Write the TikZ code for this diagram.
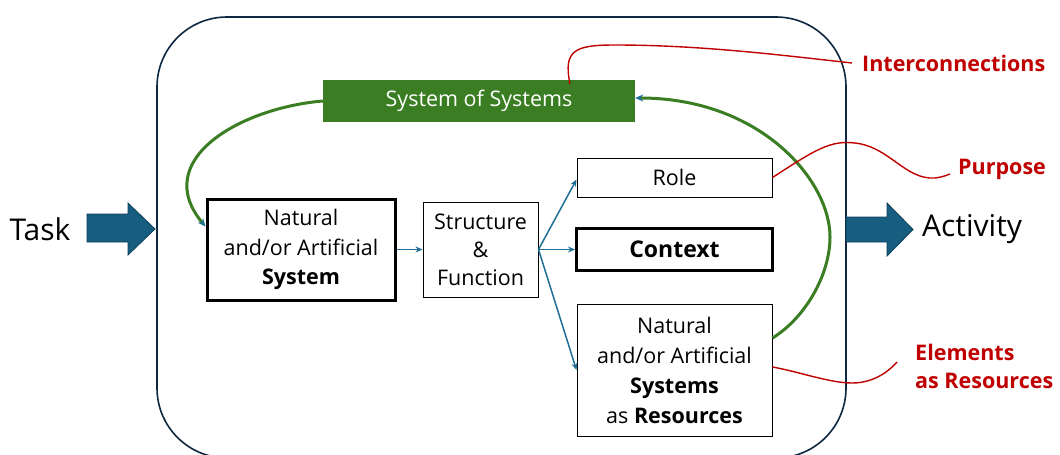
\documentclass[tikz,border=0pt]{standalone}
\usepackage{fontspec}
\setmainfont{Open Sans}
\usetikzlibrary{arrows.meta}
\definecolor{framec}{HTML}{0E2841}
\definecolor{sosgreen}{HTML}{3A7D22}
\definecolor{linkblue}{HTML}{1F6E96}
\definecolor{arrowfill}{HTML}{175D80}
\definecolor{arrowedge}{HTML}{0E3F5A}
\definecolor{notered}{HTML}{C00000}
\begin{document}
\begin{tikzpicture}[x=1pt,y=-1pt,
  boxtxt/.style={font=\fontsize{21.5}{29.5}\selectfont, align=center, inner sep=0pt, draw=black},
  thinbox/.style={boxtxt, line width=1pt},
  thickbox/.style={boxtxt, line width=3pt},
  link/.style={draw=linkblue, line width=1.5pt, -{Stealth[length=7pt,width=6pt]}},
  loop/.style={draw=sosgreen, line width=3pt, -{Stealth[length=8pt,width=7pt,color=linkblue]}},
  note/.style={draw=notered, line width=1.4pt},
  notelabel/.style={text=notered, font=\bfseries\fontsize{21.5}{28}\selectfont, anchor=west, align=left, inner sep=0pt},
  bigarrow/.style={fill=arrowfill, draw=arrowedge, line width=0.8pt, line join=miter},
  bigtxt/.style={font=\fontsize{30}{32}\selectfont, inner sep=0pt}
]
\useasboundingbox (0,0) rectangle (1060,455);
\clip (0,0) rectangle (1060,455);

% frame
\draw[draw=framec, line width=1.6pt, rounded corners=70pt] (157,17) rectangle (846,458);

% boxes
\node[fill=sosgreen, text=white, font=\fontsize{21.5}{24}\selectfont, minimum width=312pt, minimum height=42pt, inner sep=0pt] (sos) at (479,101) {System of Systems};
\node[thickbox, minimum width=188pt, minimum height=101pt] (sys) at (301,249.5) {Natural\\and/or Artificial\\\textbf{System}};
\node[thinbox, minimum width=115pt, minimum height=95pt, font=\fontsize{21.5}{28}\selectfont] (sf) at (480.5,249.5) {Structure\\\&\\Function};
\node[thinbox, minimum width=195pt, minimum height=39pt] (role) at (674.5,177.5) {Role};
\node[thickbox, minimum width=196pt, minimum height=42pt, font=\bfseries\fontsize{23}{29}\selectfont] (ctx) at (674.5,249.5) {Context};
\node[thinbox, minimum width=195pt, minimum height=132pt, font=\fontsize{21.5}{30}\selectfont] (res) at (674.5,370) {Natural\\and/or Artificial\\\textbf{Systems}\\as \textbf{Resources}};

% task / activity
\node[bigtxt] (task) at (40,229) {Task};
\draw[bigarrow] (87,214) -- (128,214) -- (128,203) -- (155,229) -- (128,255) -- (128,242) -- (87,242) -- cycle;
\node[bigtxt, anchor=west] (act) at (922,229) {Activity};
\draw[bigarrow] (846,217) -- (887,217) -- (887,203) -- (913,229.5) -- (887,256) -- (887,242) -- (846,242) -- cycle;

% blue links
\draw[link] (sys.east) -- (sf.west);
\draw[link] (sf.east) -- ([yshift=-2pt]role.west);
\draw[link] (sf.east) -- (ctx.west);
\draw[link] (sf.east) -- (res.west);

% green loops
\draw[loop] (sos.west) .. controls (240,108) and (150,160) .. ([yshift=23pt]sys.west);
\draw[loop] ([yshift=32pt]res.east) .. controls (805,318) and (830,275) .. (830,237)
  .. controls (830,180) and (760,98) .. ([yshift=3pt]sos.east);

% red notes
\node[notelabel] (ic) at (862,63) {Interconnections};
\node[notelabel] (pp) at (958,169) {Purpose};
\node[notelabel] (el) at (915,366) {Elements\\as Resources};

\draw[note] ([xshift=91pt,yshift=-4pt]sos.north) .. controls (563,50) and (575,45) .. (615,45)
  .. controls (700,45) and (780,55) .. ([xshift=-10pt]ic.west);
\draw[note] (role.east) .. controls (815,150) and (830,140) .. (855,143)
  .. controls (890,147) and (905,180) .. (935,178) .. controls (943,177) and (947,175) .. ([xshift=-8pt,yshift=-5pt]pp.west);
\draw[note] ([yshift=3pt]res.east) .. controls (800,372) and (830,383) .. (852,383)
  .. controls (875,383) and (890,370) .. ([xshift=-18pt,yshift=4pt]el.west);
\end{tikzpicture}
\end{document}
